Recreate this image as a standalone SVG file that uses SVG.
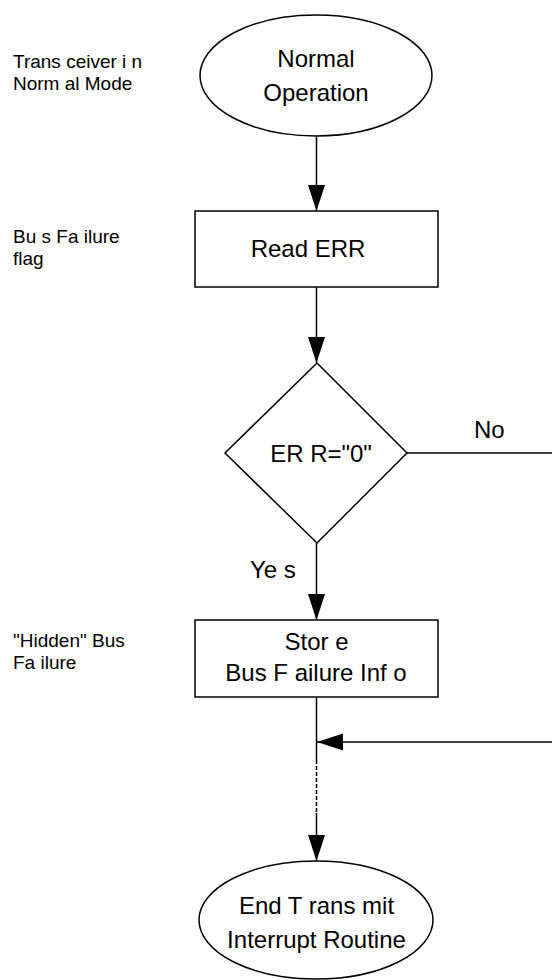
<svg xmlns="http://www.w3.org/2000/svg" width="552" height="980" viewBox="0 0 552 980">
  <style>
    .shape { fill: #ffffff; stroke: #000000; stroke-width: 1.5; }
    .wire { fill: none; stroke: #000000; stroke-width: 1.5; }
    .dash { fill: none; stroke: #000000; stroke-width: 1.5; stroke-dasharray: 4 2; }
    .node { font-family: "Liberation Sans", Arial, sans-serif; font-size: 24px; fill: #000000; text-anchor: middle; }
    .side { font-family: "Liberation Sans", Arial, sans-serif; font-size: 19px; fill: #000000; }
    .tag { font-family: "Liberation Sans", Arial, sans-serif; font-size: 24px; fill: #000000; }
  </style>
  <defs>
    <marker id="arrow" viewBox="0 0 26 17" refX="26" refY="8.5" markerWidth="26" markerHeight="17" markerUnits="userSpaceOnUse" orient="auto">
      <path d="M0,0 L26,8.5 L0,17 Z" fill="#000000"/>
    </marker>
  </defs>
  <rect x="0" y="0" width="552" height="980" fill="#ffffff"/>

  <!-- side annotations -->
  <g id="notes">
    <text class="side" x="13" y="68">Trans ceiver i n</text>
    <text class="side" x="13" y="90">Norm al Mode</text>
    <text class="side" x="13" y="243">Bu s Fa ilure</text>
    <text class="side" x="13" y="265">flag</text>
    <text class="side" x="13" y="647">"Hidden" Bus</text>
    <text class="side" x="13" y="669">Fa ilure</text>
  </g>

  <!-- connectors -->
  <g id="connectors">
    <line class="wire" x1="316.5" y1="136" x2="316.5" y2="211" marker-end="url(#arrow)"/>
    <line class="wire" x1="316.5" y1="287" x2="316.5" y2="363" marker-end="url(#arrow)"/>
    <line class="wire" x1="316.5" y1="543" x2="316.5" y2="620" marker-end="url(#arrow)"/>
    <line class="wire" x1="407" y1="453" x2="553" y2="453"/>
    <line class="wire" x1="553" y1="742" x2="317" y2="742" marker-end="url(#arrow)"/>
    <line class="wire" x1="316.5" y1="697" x2="316.5" y2="760"/>
    <line class="dash" x1="316.5" y1="760" x2="316.5" y2="813"/>
    <line class="wire" x1="316.5" y1="813" x2="316.5" y2="861" marker-end="url(#arrow)"/>
    <text class="tag" x="474" y="438">No</text>
    <text class="tag" x="250" y="578">Ye s</text>
  </g>

  <g id="normal-operation">
    <ellipse class="shape" cx="316" cy="75.5" rx="116" ry="60.5"/>
    <text class="node" x="316" y="67">Normal</text>
    <text class="node" x="316" y="101">Operation</text>
  </g>

  <g id="read-err">
    <rect class="shape" x="195" y="211" width="243" height="76"/>
    <text class="node" x="308" y="257">Read ERR</text>
  </g>

  <g id="err-check">
    <polygon class="shape" points="317,363 407,453 317,543 225,453"/>
    <text class="node" x="321" y="462">ER R="0"</text>
  </g>

  <g id="store-info">
    <rect class="shape" x="195" y="620" width="243" height="77"/>
    <text class="node" x="316.5" y="650">Stor e</text>
    <text class="node" x="316" y="681">Bus F ailure Inf o</text>
  </g>

  <g id="end-routine">
    <ellipse class="shape" cx="316" cy="920" rx="117" ry="59"/>
    <text class="node" x="316.5" y="914">End T rans mit</text>
    <text class="node" x="316.5" y="948">Interrupt Routine</text>
  </g>
</svg>
